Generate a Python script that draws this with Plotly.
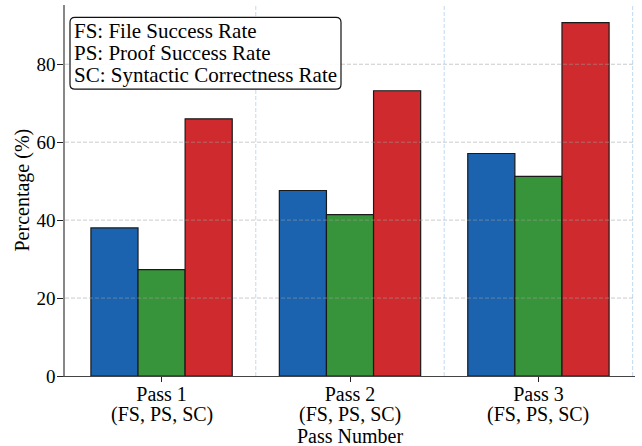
import plotly.graph_objects as go

passes = ["Pass 1", "Pass 2", "Pass 3"]
sub_label = "(FS, PS, SC)"
fs_values = [38.0, 47.6, 57.1]
ps_values = [27.3, 41.4, 51.2]
sc_values = [66.0, 73.2, 90.7]
series_names = ["FS", "PS", "SC"]
series_colors = ["#1b63ae", "#38943a", "#cf2a2d"]
y_ticks = [0, 20, 40, 60, 80]
legend_lines = ["FS: File Success Rate", "PS: Proof Success Rate", "SC: Syntactic Correctness Rate"]

FONT = "Liberation Serif"
x_idx = list(range(len(passes)))

fig = go.Figure()
for name, vals, col in zip(series_names, [fs_values, ps_values, sc_values], series_colors):
    fig.add_trace(go.Bar(
        x=x_idx, y=vals, name=name,
        marker=dict(color=col, line=dict(color="#1a1a1a", width=1.2)),
        showlegend=False, hoverinfo="skip",
    ))

shapes = []
# horizontal gridlines (drawn above bars)
for t in y_ticks[1:]:
    shapes.append(dict(type="line", xref="paper", yref="y", x0=0, x1=1, y0=t, y1=t,
                       line=dict(color="rgba(160,160,160,0.55)", width=1, dash="4px,2px"),
                       layer="above"))
# vertical separators between groups
for i in x_idx:
    shapes.append(dict(type="line", xref="x", yref="paper", x0=i + 0.5, x1=i + 0.5, y0=0, y1=1,
                       line=dict(color="rgba(140,185,230,0.55)", width=1, dash="4px,2px"),
                       layer="above"))

# legend box (rounded) in pixel-derived paper coords
W, H = 570.0, 371.5
def px(xp):
    return (xp - 65) / W
def py(yp):
    return (376.5 - yp) / H
x0, x1, y0, y1 = px(70), px(341), py(17.3), py(89.3)
rx, ry = 5 / W, 5 / H
path = (f"M {x0+rx},{y0} L {x1-rx},{y0} Q {x1},{y0} {x1},{y0-ry} "
        f"L {x1},{y1+ry} Q {x1},{y1} {x1-rx},{y1} L {x0+rx},{y1} Q {x0},{y1} {x0},{y1+ry} "
        f"L {x0},{y0-ry} Q {x0},{y0} {x0+rx},{y0} Z")
shapes.append(dict(type="path", xref="paper", yref="paper", path=path,
                   line=dict(color="#111111", width=1.2), fillcolor="rgba(255,255,255,0.9)",
                   layer="above"))

annotations = []
for line, yc in zip(legend_lines, [31.2, 53.0, 75.0]):
    annotations.append(dict(text=line, xref="paper", yref="paper", x=px(72.0), y=py(yc),
                            xanchor="left", yanchor="middle", showarrow=False,
                            font=dict(family=FONT, size=21, color="black")))
for i in x_idx:
    annotations.append(dict(text=sub_label, xref="x", yref="paper", x=i, y=0,
                            yanchor="middle", yshift=-38, showarrow=False,
                            font=dict(family=FONT, size=20, color="black")))
annotations.append(dict(text="Pass Number", xref="paper", yref="paper", x=0.5, y=0,
                        yanchor="middle", yshift=-59.5, showarrow=False,
                        font=dict(family=FONT, size=20, color="black")))
annotations.append(dict(text="Percentage (%)", xref="paper", yref="paper", x=px(22), y=0.5,
                        xanchor="center", yanchor="middle", textangle=-90, showarrow=False,
                        font=dict(family=FONT, size=20, color="black")))

fig.update_layout(
    width=642, height=446,
    margin=dict(l=65, r=7, t=5, b=69.5),
    barmode="group", bargap=0.25, bargroupgap=0,
    plot_bgcolor="white", paper_bgcolor="white",
    font=dict(family=FONT, size=20, color="black"),
    shapes=shapes, annotations=annotations,
    xaxis=dict(range=[-0.5125, 2.5125], tickvals=x_idx, ticktext=passes,
               showgrid=False, zeroline=False, showline=True, linecolor="#444444", linewidth=1.3,
               ticks="outside", ticklen=5, tickcolor="#222222", tickwidth=1.2,
               ticklabelstandoff=-5,
               tickfont=dict(family=FONT, size=20, color="black")),
    yaxis=dict(range=[0, 95.2], tickvals=y_ticks, showgrid=False, zeroline=False,
               showline=True, linecolor="#888888", linewidth=1.5,
               ticks="outside", ticklen=6, tickcolor="#222222", tickwidth=1.2,
               ticklabelstandoff=-2,
               tickfont=dict(family=FONT, size=19, color="black")),
)

fig.write_html("out.html", config={"displayModeBar": False},
               post_script="document.body.style.margin='0';")
